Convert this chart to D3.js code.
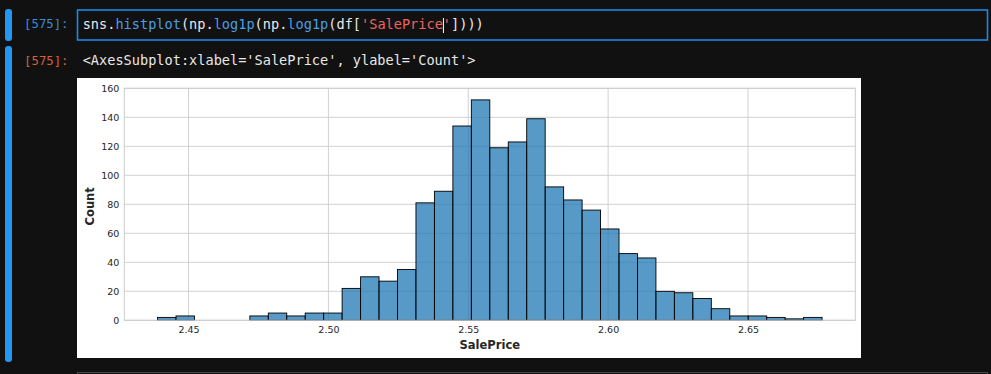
<!DOCTYPE html>
<html>
<head>
<meta charset="utf-8">
<title>histplot SalePrice</title>
<script src="https://d3js.org/d3.v7.min.js"></script>
<style>
  html, body { margin: 0; padding: 0; background: #111111; }
  svg { display: block; }
  .mono { font-family: "DejaVu Sans Mono", "Liberation Mono", monospace; }
  .tick text { font-family: "DejaVu Sans", sans-serif; font-size: 9.5px; fill: #262626; }
</style>
</head>
<body>
<div id="chart"></div>
<script>
// histogram counts (36 bins)
var counts = [2, 3, 0, 0, 0, 3, 5, 3, 5, 5, 22, 30, 27, 35, 81, 89, 134, 152,
              119, 123, 139, 92, 83, 76, 63, 46, 43, 20, 19, 15, 8, 3, 3, 2, 1, 2];
var binStart = 2.43891, binEnd = 2.67648;
var xTicks = [2.45, 2.50, 2.55, 2.60, 2.65];
var yTicks = [0, 20, 40, 60, 80, 100, 120, 140, 160];
var codeParts = [
  {t: "sns.", c: "#e8e8e8"}, {t: "histplot", c: "#4a9ee6"}, {t: "(np.", c: "#e8e8e8"},
  {t: "log1p", c: "#4a9ee6"}, {t: "(np.", c: "#e8e8e8"}, {t: "log1p", c: "#4a9ee6"},
  {t: "(df[", c: "#e8e8e8"}, {t: "'SalePrice'", c: "#f06262"}, {t: "])))", c: "#e8e8e8"}
];
var outText = "<AxesSubplot:xlabel='SalePrice', ylabel='Count'>";

var W = 991, H = 374;
var monoSize = 13.6, charW = monoSize * 0.602;
var svg = d3.select("#chart").append("svg").attr("width", W).attr("height", H);

// notebook chrome
svg.append("rect").attr("x", 5).attr("y", 9).attr("width", 7).attr("height", 32).attr("rx", 3).attr("fill", "#2196f3");
svg.append("rect").attr("x", 5).attr("y", 46).attr("width", 7).attr("height", 316).attr("rx", 3).attr("fill", "#2196f3");

svg.append("text").attr("class", "mono").attr("x", 68.5).attr("y", 28)
  .attr("text-anchor", "end").attr("font-size", 12.3).attr("fill", "#3b8bd5").text("[575]:");
svg.append("text").attr("class", "mono").attr("x", 68.5).attr("y", 65)
  .attr("text-anchor", "end").attr("font-size", 12.3).attr("fill", "#d4603c").text("[575]:");

svg.append("rect").attr("x", 77.5).attr("y", 10).attr("width", 910).attr("height", 30)
  .attr("fill", "#111111").attr("stroke", "#1e88e5").attr("stroke-width", 1.6);

var code = svg.append("text").attr("class", "mono").attr("x", 82.7).attr("y", 29)
  .attr("font-size", monoSize).attr("xml:space", "preserve");
code.selectAll("tspan").data(codeParts).join("tspan")
  .attr("fill", d => d.c).text(d => d.t);
// text cursor, just before the closing quote
var curX = 82.7 + 44 * charW + 0.5;
svg.append("line").attr("x1", curX).attr("x2", curX).attr("y1", 18).attr("y2", 33)
  .attr("stroke", "#ffffff").attr("stroke-width", 1);

svg.append("text").attr("class", "mono").attr("x", 82.7).attr("y", 65)
  .attr("font-size", monoSize).attr("fill", "#e8e8e8").text(outText);

// next cell edge
svg.append("rect").attr("x", 77.5).attr("y", 372.5).attr("width", 910).attr("height", 20)
  .attr("fill", "none").attr("stroke", "#4a4a4a").attr("stroke-width", 1);

// figure
svg.append("rect").attr("x", 77).attr("y", 78).attr("width", 784).attr("height", 280).attr("fill", "#ffffff");

var pLeft = 124.3, pRight = 855.3, pTop = 88.3, pBottom = 320.3;
var pad = (binEnd - binStart) * 0.05;
var x = d3.scaleLinear().domain([binStart - pad, binEnd + pad]).range([pLeft, pRight]);
var y = d3.scaleLinear().domain([0, 160]).range([pBottom, pTop]);

var binW = (binEnd - binStart) / counts.length;
var bins = counts.map((c, i) => ({x0: binStart + i * binW, x1: binStart + (i + 1) * binW, n: c}));

var g = svg.append("g");

// grid
g.selectAll("line.gx").data(xTicks).join("line").attr("class", "gx")
  .attr("x1", d => x(d)).attr("x2", d => x(d)).attr("y1", pTop).attr("y2", pBottom)
  .attr("stroke", "#cccccc").attr("stroke-width", 0.9);
g.selectAll("line.gy").data(yTicks).join("line").attr("class", "gy")
  .attr("x1", pLeft).attr("x2", pRight).attr("y1", d => y(d)).attr("y2", d => y(d))
  .attr("stroke", "#cccccc").attr("stroke-width", 0.9);

// bars
g.selectAll("rect.bar").data(bins.filter(b => b.n > 0)).join("rect").attr("class", "bar")
  .attr("x", d => x(d.x0)).attr("width", d => x(d.x1) - x(d.x0))
  .attr("y", d => y(d.n)).attr("height", d => y(0) - y(d.n))
  .attr("fill", "#1f77b4").attr("fill-opacity", 0.75)
  .attr("stroke", "#000000").attr("stroke-width", 0.9);

// spines
g.append("rect").attr("x", pLeft).attr("y", pTop).attr("width", pRight - pLeft).attr("height", pBottom - pTop)
  .attr("fill", "none").attr("stroke", "#cccccc").attr("stroke-width", 1);

// axes (labels only, no tick marks)
var xAxis = d3.axisBottom(x).tickValues(xTicks).tickFormat(d3.format(".2f")).tickSize(0).tickPadding(6);
svg.append("g").attr("transform", "translate(0," + pBottom + ")").call(xAxis)
  .call(a => a.select(".domain").remove());
var yAxis = d3.axisLeft(y).tickValues(yTicks).tickSize(0).tickPadding(5);
svg.append("g").attr("transform", "translate(" + pLeft + ",0)").call(yAxis)
  .call(a => a.select(".domain").remove());

svg.append("text").attr("x", (pLeft + pRight) / 2).attr("y", 349)
  .attr("text-anchor", "middle").attr("font-family", "DejaVu Sans, sans-serif")
  .attr("font-weight", "bold").attr("font-size", 11.5).attr("fill", "#262626").text("SalePrice");
svg.append("text").attr("transform", "translate(94," + ((pTop + pBottom) / 2 + 2) + ") rotate(-90)")
  .attr("text-anchor", "middle").attr("font-family", "DejaVu Sans, sans-serif")
  .attr("font-weight", "bold").attr("font-size", 11.5).attr("fill", "#262626").text("Count");
</script>
</body>
</html>
